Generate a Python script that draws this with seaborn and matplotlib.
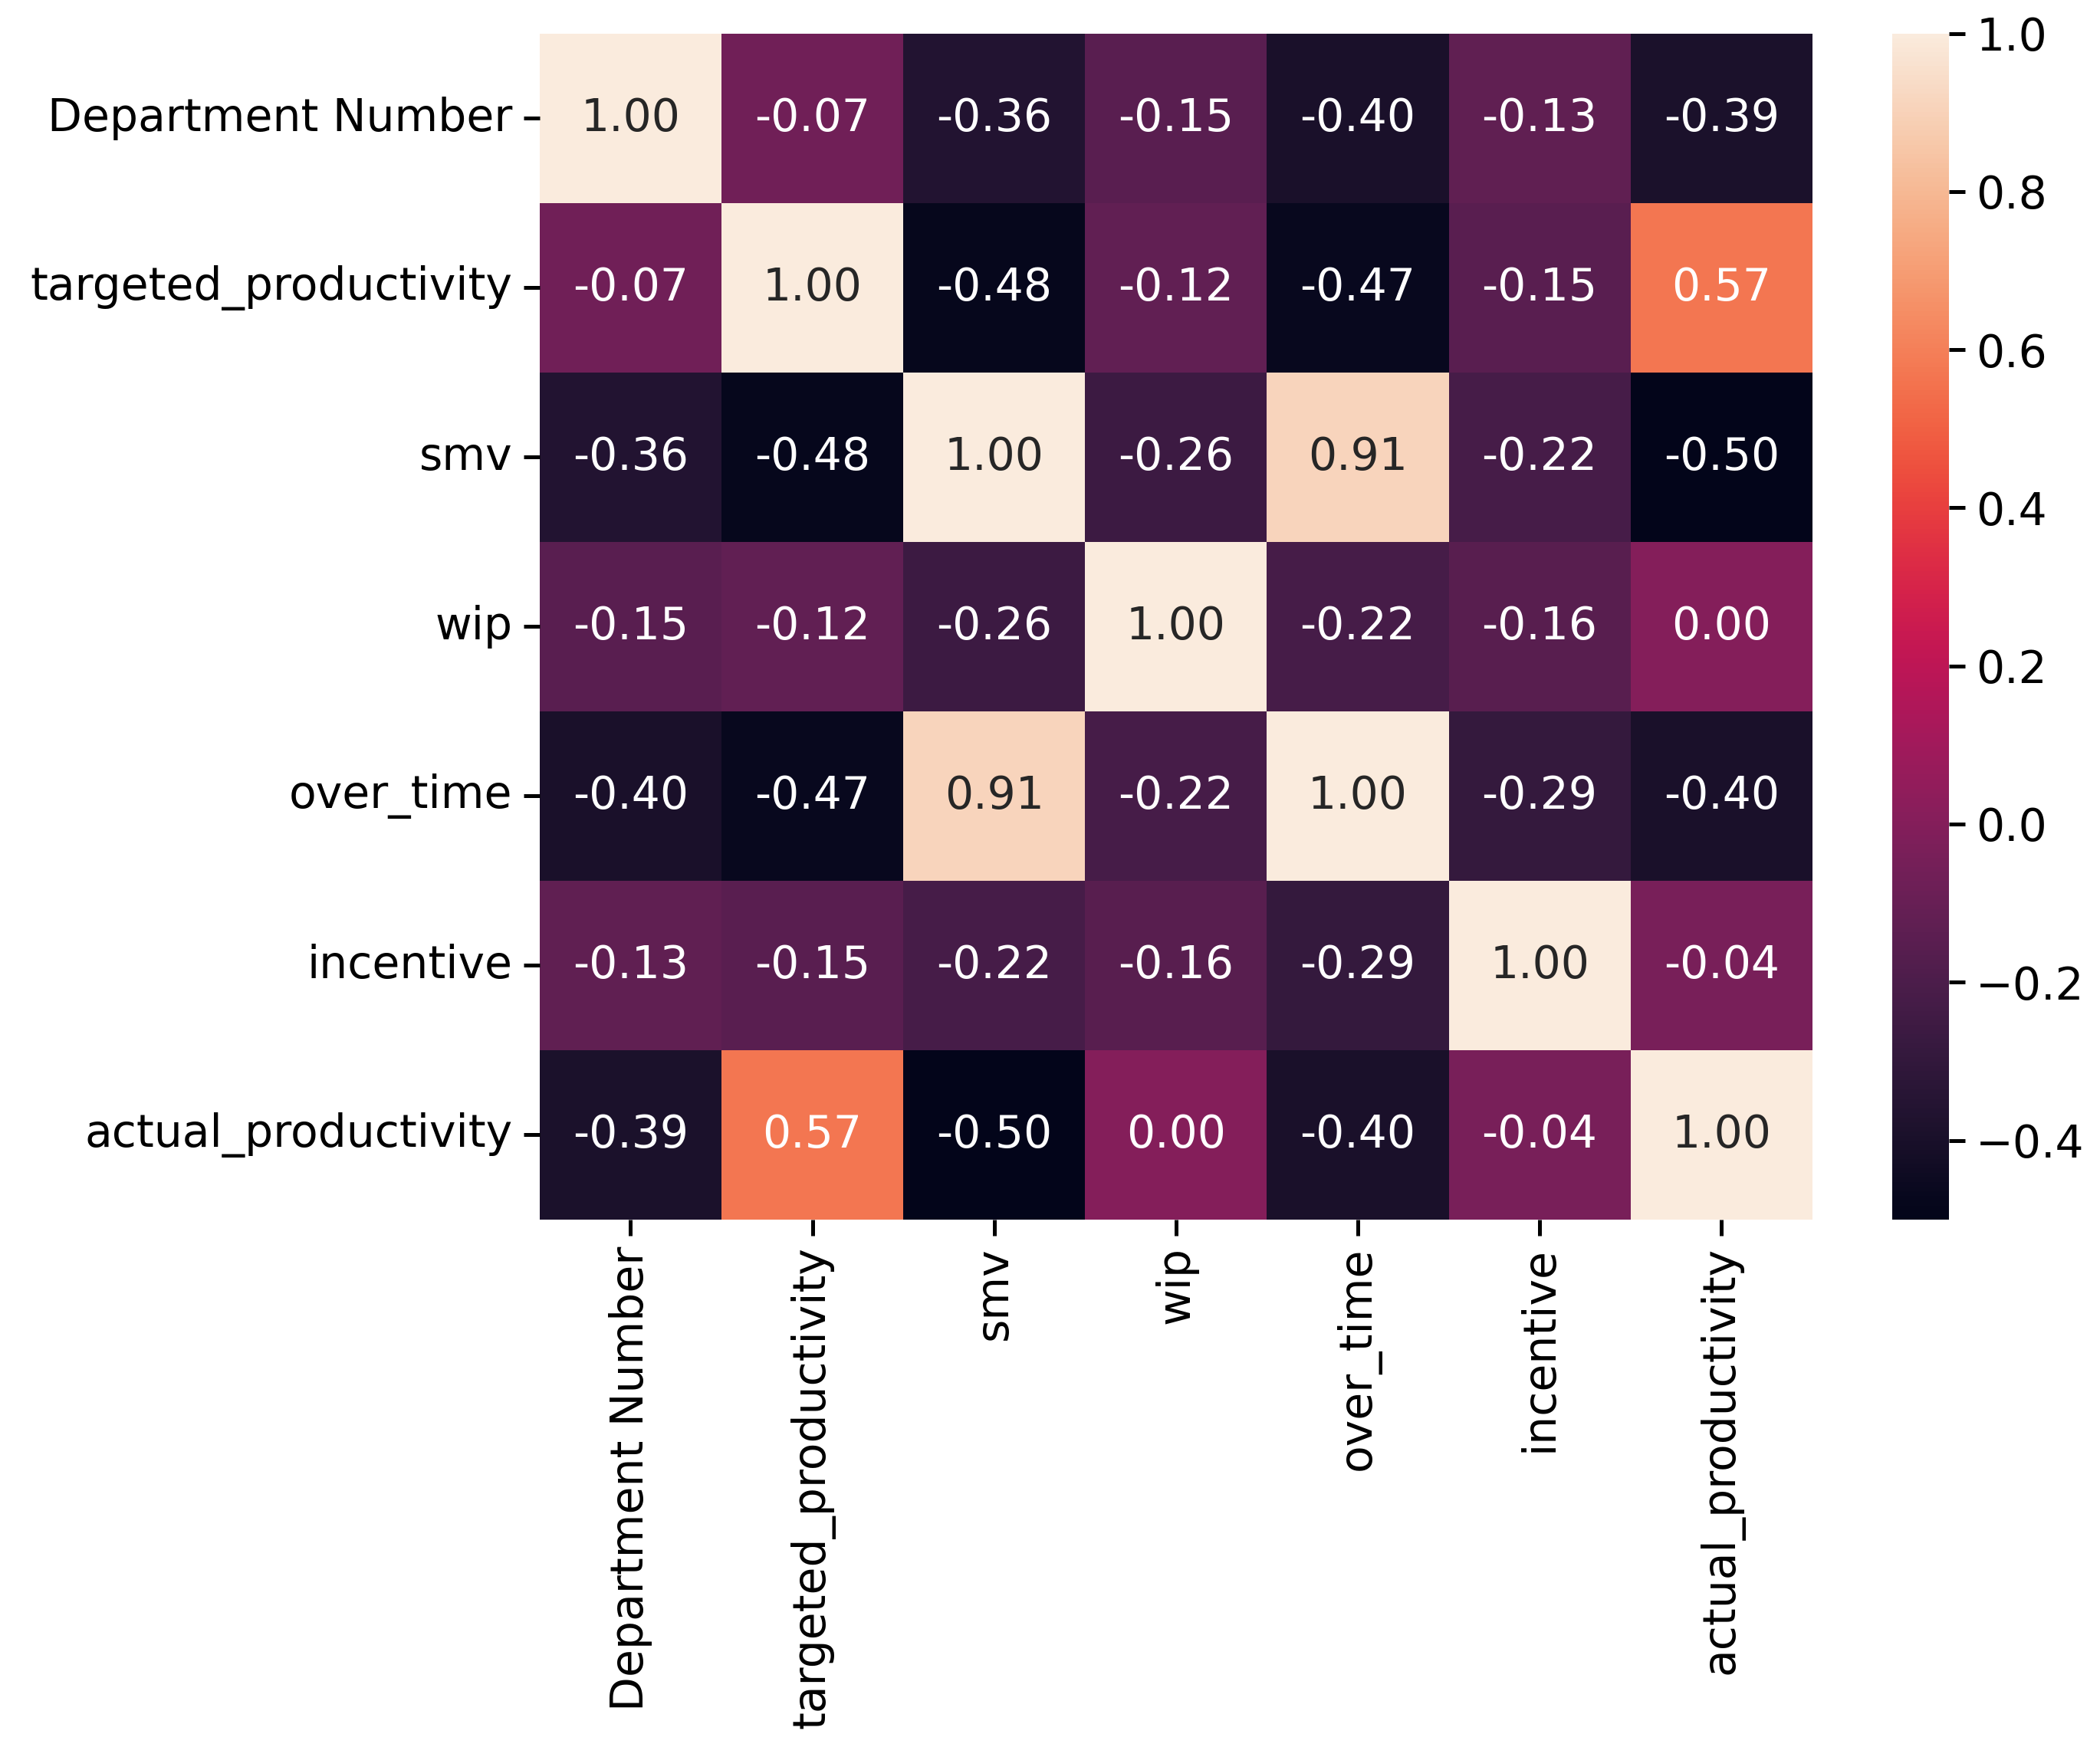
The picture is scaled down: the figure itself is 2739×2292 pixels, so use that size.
import numpy as np
import pandas as pd
import matplotlib
matplotlib.use("Agg")
import matplotlib.pyplot as plt
import seaborn as sns

labels = ["Department Number", "targeted_productivity", "smv", "wip",
          "over_time", "incentive", "actual_productivity"]

row_dept = [1.00, -0.07, -0.36, -0.15, -0.40, -0.13, -0.39]
row_target = [-0.07, 1.00, -0.48, -0.12, -0.47, -0.15, 0.57]
row_smv = [-0.36, -0.48, 1.00, -0.26, 0.91, -0.22, -0.50]
row_wip = [-0.15, -0.12, -0.26, 1.00, -0.22, -0.16, 0.00]
row_over = [-0.40, -0.47, 0.91, -0.22, 1.00, -0.29, -0.40]
row_incent = [-0.13, -0.15, -0.22, -0.16, -0.29, 1.00, -0.04]
row_actual = [-0.39, 0.57, -0.50, 0.00, -0.40, -0.04, 1.00]

corr = pd.DataFrame([row_dept, row_target, row_smv, row_wip, row_over,
                     row_incent, row_actual], index=labels, columns=labels)

fs = 14
plt.rcParams['font.family'] = ['DejaVu Sans']
fig = plt.figure(figsize=(2739/300, 2292/300), dpi=300)
ax = fig.add_axes([0.257, 0.306, 0.606, 0.675])
cax = fig.add_axes([0.901, 0.306, 0.027, 0.675])

sns.heatmap(corr, annot=True, fmt=".2f", cmap="rocket", ax=ax, cbar_ax=cax,
            annot_kws={"size": fs})
ax.set_xticklabels(labels, rotation=90, fontsize=fs)
ax.set_yticklabels(labels, rotation=0, fontsize=fs)
ax.tick_params(length=5, width=1.2)
cax.tick_params(labelsize=fs, length=5, width=1.2)

fig.savefig("out.png", dpi=300)
